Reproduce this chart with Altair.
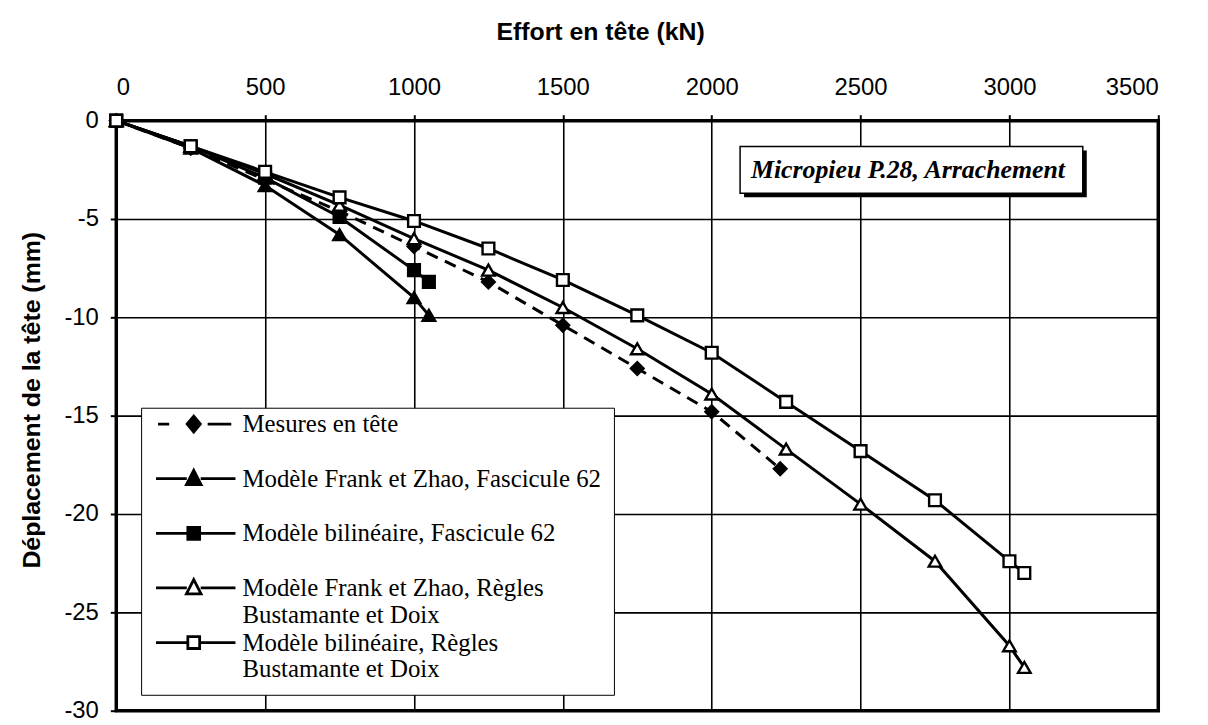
import altair as alt
import pandas as pd

# ---------------- data ----------------
x_title = "Effort en tête (kN)"
y_title = "Déplacement de la tête (mm)"
inset_title = "Micropieu P.28, Arrachement"

series_labels = [
    "Mesures en tête",
    "Modèle Frank et Zhao, Fascicule 62",
    "Modèle bilinéaire, Fascicule 62",
    "Modèle Frank et Zhao, Règles\nBustamante et Doix",
    "Modèle bilinéaire, Règles\nBustamante et Doix",
]

force_mes = [0, 250, 500, 750, 1000, 1250, 1500, 1750, 2000, 2230]
disp_mes = [0, -1.4, -3.0, -4.6, -6.4, -8.2, -10.4, -12.6, -14.8, -17.7]

force_fz62 = [0, 250, 500, 750, 1000, 1050]
disp_fz62 = [0, -1.4, -3.3, -5.8, -9.0, -9.9]

force_bl62 = [0, 250, 500, 750, 1000, 1050]
disp_bl62 = [0, -1.3, -2.9, -4.9, -7.6, -8.2]

force_fzbd = [0, 250, 500, 750, 1000, 1250, 1500, 1750, 2000, 2250, 2500, 2750, 3000, 3050]
disp_fzbd = [0, -1.3, -2.7, -4.3, -6.0, -7.6, -9.5, -11.6, -13.9, -16.7, -19.5, -22.4, -26.7, -27.8]

force_blbd = [0, 250, 500, 750, 1000, 1250, 1500, 1750, 2000, 2250, 2500, 2750, 3000, 3050]
disp_blbd = [0, -1.3, -2.6, -3.9, -5.1, -6.5, -8.1, -9.9, -11.8, -14.3, -16.8, -19.3, -22.4, -23.0]

x_ticks = [0, 500, 1000, 1500, 2000, 2500, 3000, 3500]
y_ticks = [0, -5, -10, -15, -20, -25, -30]

# ---------------- build table ----------------
forces = [force_mes, force_fz62, force_bl62, force_fzbd, force_blbd]
disps = [disp_mes, disp_fz62, disp_bl62, disp_fzbd, disp_blbd]
rows = []
for lab, fx, dy in zip(series_labels, forces, disps):
    for a, b in zip(fx, dy):
        rows.append({"serie": lab, "effort": a, "depl": b})
df = pd.DataFrame(rows)

W, H = 1049, 594
FONT_SANS = "Liberation Sans"
FONT_SERIF = "Liberation Serif"

xs = alt.Scale(domain=[0, 3500], nice=False)
ys = alt.Scale(domain=[-30, 0], nice=False)

x_enc = alt.X("effort:Q", scale=xs,
              axis=alt.Axis(orient="top", values=x_ticks, title=x_title,
                            labelExpr="'' + datum.value",
                            titleX=487, titleY=-90, titleAlign="center",
                            titleBaseline="middle", labelPadding=15))
y_enc = alt.Y("depl:Q", scale=ys,
              axis=alt.Axis(values=y_ticks, title=y_title,
                            labelExpr="'' + datum.value",
                            titleX=-85, titleY=281, titleAlign="center",
                            titleBaseline="middle", labelPadding=12))

styles = [
    # shape, filled, size, dashed
    ("diamond", True, 160, True),
    ("triangle-up", True, 160, False),
    ("square", True, 140, False),
    ("triangle-up", False, 160, False),
    ("square", False, 140, False),
]

layers = []
for lab, (shape, filled, size, dashed) in zip(series_labels, styles):
    sub = alt.Chart(df).transform_filter(alt.datum.serie == lab)
    line_kw = dict(color="black", strokeWidth=3)
    if dashed:
        line_kw["strokeDash"] = [12, 8]
    layers.append(sub.mark_line(**line_kw).encode(x=x_enc, y=y_enc))
    pt_kw = dict(shape=shape, size=size, opacity=1, stroke="black", strokeWidth=2.4,
                 fill="black" if filled else "white", filled=True)
    layers.append(sub.mark_point(**pt_kw).encode(x=x_enc, y=y_enc))

# legend symbols: line segment + marker as custom symbol paths (unit = 7 px)
L0, L1, MC, DY = -1.36, 10.07, 4.07, -1.15


def seg(a, b):
    return f"M{a:.2f},{DY:.2f}H{b:.2f}"


def p_tri():
    return (seg(L0, MC - 1.0) + seg(MC + 1.0, L1) +
            f"M{MC:.2f},{DY-1.2:.2f}L{MC+1.05:.2f},{DY+0.85:.2f}L{MC-1.05:.2f},{DY+0.85:.2f}Z")


def p_sq():
    return (seg(L0, MC - 0.9) + seg(MC + 0.9, L1) +
            f"M{MC-0.85:.2f},{DY-0.85:.2f}H{MC+0.85:.2f}V{DY+0.85:.2f}H{MC-0.85:.2f}Z")


def p_dia():
    return (seg(L0 + 0.3, L0 + 1.9) + seg(MC + 2.0, L1 - 0.6) +
            f"M{MC:.2f},{DY-1.15:.2f}L{MC+0.95:.2f},{DY:.2f}L{MC:.2f},{DY+1.15:.2f}L{MC-0.95:.2f},{DY:.2f}Z")


legend_paths = [p_dia(), p_tri(), p_sq(), p_tri(), p_sq()]
legend_fills = ["black", "black", "black", "white", "white"]
legend_strokes = ["black"] * 5

leg = alt.Legend(title=None, orient="none", legendX=25, legendY=289,
                 strokeColor="black", fillColor="white", padding=12,
                 symbolSize=196, symbolStrokeWidth=2.8, symbolStrokeColor="black",
                 symbolOpacity=1, labelFont=FONT_SERIF, labelFontSize=25,
                 labelColor="black", labelLimit=600, labelOffset=65,
                 labelBaseline="alphabetic", labelExpr="split(datum.label, '\\n')",
                 gridAlign="all", rowPadding=0, offset=0)

legend_layer = alt.Chart(df).mark_point(opacity=0, filled=False, strokeWidth=2.8).encode(
    x=x_enc, y=y_enc,
    shape=alt.Shape("serie:N", scale=alt.Scale(domain=series_labels, range=legend_paths), legend=leg),
    fill=alt.Fill("serie:N", scale=alt.Scale(domain=series_labels, range=legend_fills), legend=leg),
    stroke=alt.Stroke("serie:N", scale=alt.Scale(domain=series_labels, range=legend_strokes), legend=leg),
)
layers.append(legend_layer)

# inset title box with shadow
tdf = pd.DataFrame({"t": [inset_title]})
box_shadow = alt.Chart(tdf).mark_rect(color="black").encode(
    x=alt.value(632), x2=alt.value(977), y=alt.value(30), y2=alt.value(77))
box = alt.Chart(tdf).mark_rect(fill="white", stroke="black", strokeWidth=1.5).encode(
    x=alt.value(628), x2=alt.value(973), y=alt.value(26), y2=alt.value(73))
box_text = alt.Chart(tdf).mark_text(font=FONT_SERIF, fontSize=26, fontStyle="italic",
                                    fontWeight="bold", color="black").encode(
    x=alt.value(797), y=alt.value(50), text="t:N")
layers += [box_shadow, box, box_text]

chart = alt.layer(*layers).properties(
    width=W, height=H,
    autosize=alt.AutoSizeParams(type="none"),
    padding={"left": 109, "top": 111, "right": 42, "bottom": 12},
    background="white",
).configure_view(
    stroke="black", strokeWidth=3.5
).configure_axis(
    domain=False, grid=True, gridColor="black", gridWidth=1.6, gridOpacity=1,
    ticks=True, tickColor="black", tickSize=6, tickWidth=2,
    labelFont=FONT_SANS, labelFontSize=24, labelColor="black",
    titleFont=FONT_SANS, titleFontSize=25, titleFontWeight="bold", titleColor="black",
)

chart.save("out.html", embed_options={"renderer": "svg", "actions": False})
